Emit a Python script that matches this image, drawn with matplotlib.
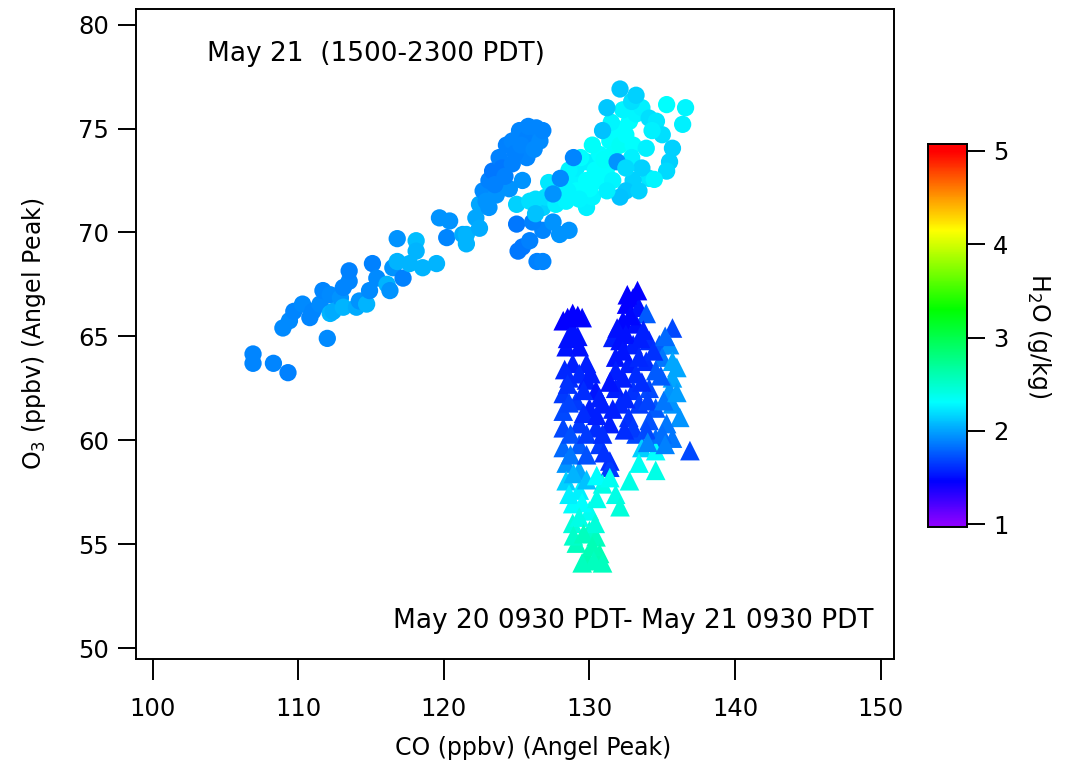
import numpy as np
import matplotlib
matplotlib.use("Agg")
import matplotlib.pyplot as plt
from matplotlib.colors import LinearSegmentedColormap, Normalize

# --- May 21 (1500-2300 PDT): CO, O3, H2O ---
co_may21 = [106.9, 106.9, 108.3, 109.3, 108.95, 109.4, 109.7, 110.3, 110.8, 111.0,
            111.5, 111.7, 112.0, 112.2, 112.2, 112.4, 112.9, 113.1, 113.1, 113.5,
            113.5, 114.0, 114.2, 114.7, 114.9, 115.1, 115.4, 116.1, 116.3, 116.5,
            116.8, 116.8, 117.2, 117.65, 118.1, 118.1, 118.55, 119.5, 119.7, 120.2,
            120.4, 121.3, 121.55, 121.55,
            122.2, 122.45, 122.45, 122.7, 123.1, 123.1, 123.35, 123.6, 123.8, 124.0,
            124.3, 124.5, 124.7, 124.7, 125.2, 125.4, 125.7, 125.7, 126.35, 126.6,
            126.8, 125.0, 123.5, 124.2, 124.9, 125.3, 125.8, 126.2, 122.9,
            125.1, 125.4, 125.9, 126.4, 126.8, 126.8, 127.5, 127.95, 128.6, 126.1,
            125.0, 125.9, 126.8, 127.0, 127.5, 127.7, 128.2, 128.4, 128.9, 129.1,
            129.1, 129.8, 129.8, 129.8, 130.2, 130.7, 130.7, 131.2, 131.4, 131.6,
            131.9, 132.1, 132.5, 132.75, 133.2, 133.6,
            126.3, 127.2, 128.6, 129.4, 130.2, 130.4, 131.0, 131.5, 132.3, 132.9,
            133.0, 132.9, 130.0, 129.3, 128.5, 126.3,
            128.9, 128.0, 127.5, 131.9,
            132.1, 133.2, 131.2, 130.9, 134.1, 134.6, 135.3, 136.6, 136.4, 135.0,
            135.7, 135.5, 135.3, 134.1, 133.0, 132.5, 132.1, 133.4, 133.6, 133.9,
            134.3, 132.5, 131.6, 131.2, 134.45]
o3_may21 = [63.7, 64.15, 63.7, 63.25, 65.4, 65.75, 66.2, 66.55, 65.9, 66.2,
            66.55, 67.2, 64.9, 67.0, 66.1, 66.2, 66.85, 67.35, 66.4, 67.65,
            68.15, 66.4, 66.7, 66.55, 67.2, 68.5, 67.8, 67.5, 67.2, 68.3,
            69.7, 68.6, 67.8, 68.5, 69.6, 69.1, 68.3, 68.5, 70.7, 69.75,
            70.55, 69.9, 69.45, 69.9,
            70.7, 70.2, 71.35, 72.0, 71.2, 72.5, 72.95, 71.8, 73.6, 73.1,
            74.2, 72.1, 74.4, 73.3, 74.9, 72.5, 74.5, 73.6, 75.03, 74.4,
            74.9, 70.4, 72.3, 72.7, 73.8, 74.2, 75.1, 74.0, 71.5,
            69.1, 69.3, 69.6, 68.6, 68.6, 70.1, 70.5, 69.9, 70.1, 70.5,
            71.35, 71.5, 71.2, 71.7, 72.1, 71.35, 72.6, 71.5, 72.5, 72.0,
            73.1, 72.5, 71.2, 73.4, 71.7, 72.5, 73.75, 73.1, 74.4, 73.75,
            75.0, 74.2, 74.7, 75.35, 75.7, 76.0,
            71.6, 72.4, 73.0, 73.6, 74.2, 73.0, 73.5, 75.3, 75.9, 76.3,
            74.2, 73.6, 72.1, 71.6, 72.0, 70.9,
            73.6, 72.6, 71.85, 73.4,
            76.9, 76.6, 76.0, 74.9, 75.5, 75.35, 76.15, 76.0, 75.2, 74.7,
            74.05, 73.4, 72.95, 72.6, 72.5, 72.0, 71.7, 72.0, 73.1, 74.05,
            74.9, 73.1, 72.5, 72.0, 72.55]
h2o_may21 = [1.90, 1.90, 1.90, 1.88, 1.92, 1.92, 1.90, 1.92, 1.90, 1.90,
             1.92, 1.90, 1.92, 1.92, 2.05, 2.02, 1.95, 1.90, 2.05, 1.90,
             1.88, 2.02, 1.95, 2.05, 1.92, 1.88, 1.92, 2.05, 1.95, 1.95,
             1.95, 2.05, 1.88, 2.05, 2.08, 2.05, 2.05, 2.05, 1.95, 1.90,
             1.95, 2.02, 2.05, 2.05,
             2.00, 2.02, 2.00, 1.92, 1.95, 1.88, 1.85, 1.95, 1.88, 1.85,
             1.88, 1.95, 1.90, 1.88, 1.90, 1.95, 1.88, 1.90, 1.90, 1.92,
             1.90, 1.85, 1.88, 1.88, 1.88, 1.90, 1.90, 1.92, 1.95,
             1.85, 1.85, 1.88, 1.88, 1.90, 1.90, 1.95, 1.95, 1.95, 1.88,
             2.15, 2.20, 2.15, 2.20, 2.20, 2.25, 2.25, 2.28, 2.28, 2.30,
             2.25, 2.30, 2.25, 2.25, 2.28, 2.30, 2.30, 2.30, 2.30, 2.32,
             2.30, 2.33, 2.30, 2.30, 2.28, 2.25,
             2.20, 2.22, 2.28, 2.30, 2.32, 2.30, 2.32, 2.28, 2.28, 2.20,
             2.30, 2.25, 2.30, 2.28, 2.28, 2.10,
             1.90, 1.92, 1.95, 1.95,
             2.12, 2.15, 2.12, 2.10, 2.20, 2.22, 2.30, 2.28, 2.25, 2.20,
             2.15, 2.15, 2.18, 2.22, 2.15, 2.12, 2.10, 2.15, 2.15, 2.25,
             2.25, 2.18, 2.28, 2.25, 2.28]

# --- May 20 0930 PDT - May 21 0930 PDT: CO, O3, H2O ---
co_may20 = [128.85, 128.2, 129.5, 128.85, 128.4, 129.3, 128.85, 129.8, 128.6, 129.8,
            130.45, 128.2, 129.1, 128.2, 130.0, 130.9, 128.2, 129.3, 130.45, 131.4,
            128.2, 129.3, 130.7, 131.4, 131.4, 128.4, 129.3, 128.4, 129.3, 130.9,
            131.8, 128.85, 130.0, 132.1, 128.85, 130.0, 130.45, 129.1, 129.8, 130.7,
            130.9, 129.5,
            128.5, 129.2, 128.5, 129.2, 128.3, 129.3, 130.1, 128.5, 129.6, 128.6,
            129.6, 130.5, 128.7, 129.8, 130.9, 128.7, 129.8, 131.0, 128.9, 129.8,
            130.5, 131.4, 128.6, 129.5, 130.5, 129.3, 130.4, 128.9, 129.6, 130.2,
            130.3,
            133.0, 132.55, 133.4, 133.9, 132.3, 133.2, 135.7, 131.6, 132.1, 133.0,
            134.1, 134.8, 135.5, 131.8, 132.7, 133.9, 135.0, 135.7, 131.8, 133.2,
            134.55, 135.7, 131.8, 133.0, 134.1, 135.5, 132.1, 133.4, 134.55, 135.7,
            136.2, 132.7, 134.1, 135.3, 133.2, 134.55, 135.7, 136.9, 133.6, 134.55,
            133.4, 134.55, 132.75, 130.7,
            132.6, 133.3, 132.8, 133.7, 132.5, 131.9, 133.5, 134.4, 132.3, 133.4,
            132.3, 133.6, 134.9, 131.4, 132.5, 134.0, 135.1, 131.6, 133.0, 133.9,
            135.0, 134.0, 135.2, 132.4, 136.0, 136.0, 135.2]
o3_may20 = [66.1, 65.75, 65.9, 65.3, 64.5, 64.5, 63.7, 63.7, 63.0, 62.9,
            62.4, 62.25, 61.9, 61.4, 61.55, 61.75, 60.6, 60.8, 60.6, 60.8,
            59.65, 59.8, 59.8, 59.0, 58.7, 58.9, 58.55, 58.05, 57.6, 57.9,
            57.4, 56.95, 56.6, 56.8, 56.0, 55.65, 55.35, 55.05, 54.4, 54.55,
            54.1, 54.1,
            65.9, 66.0, 64.9, 65.0, 63.4, 63.2, 63.2, 62.7, 62.4, 61.8,
            61.3, 61.2, 60.3, 60.3, 60.3, 59.3, 59.3, 59.4, 58.4, 58.1,
            58.3, 58.2, 57.4, 57.0, 57.2, 56.3, 56.0, 55.4, 55.5, 54.9,
            54.2,
            66.85, 66.55, 66.4, 66.1, 65.75, 65.6, 65.4, 64.95, 64.8, 64.6,
            64.8, 64.6, 64.6, 64.0, 63.7, 63.8, 64.0, 63.8, 63.35, 63.2,
            63.35, 63.0, 62.5, 62.4, 62.5, 62.4, 61.75, 61.75, 61.55, 61.75,
            61.1, 61.1, 60.95, 60.8, 60.3, 60.1, 60.1, 59.5, 59.65, 59.5,
            58.9, 58.55, 58.05, 62.05,
            67.0, 67.2, 66.0, 65.3, 65.1, 65.4, 64.9, 64.3, 64.3, 64.0,
            63.0, 62.8, 63.1, 62.8, 62.0, 61.9, 61.9, 61.5, 60.6, 60.5,
            60.3, 59.9, 59.8, 60.5, 62.3, 63.5, 65.0]
h2o_may20 = [1.45, 1.45, 1.48, 1.50, 1.52, 1.50, 1.55, 1.55, 1.60, 1.55,
             1.52, 1.65, 1.65, 1.70, 1.55, 1.55, 1.70, 1.65, 1.60, 1.55,
             1.80, 1.75, 1.65, 1.60, 1.65, 1.95, 2.00, 2.15, 2.25, 2.40,
             2.40, 2.30, 2.35, 2.45, 2.45, 2.50, 2.55, 2.55, 2.60, 2.60,
             2.55, 2.55,
             1.45, 1.45, 1.50, 1.50, 1.58, 1.58, 1.55, 1.62, 1.60, 1.68,
             1.60, 1.55, 1.72, 1.65, 1.60, 1.85, 1.72, 1.62, 2.05, 2.10,
             2.30, 2.35, 2.25, 2.30, 2.38, 2.40, 2.45, 2.50, 2.55, 2.58,
             2.55,
             1.45, 1.45, 1.50, 1.75, 1.48, 1.50, 1.70, 1.55, 1.50, 1.55,
             1.60, 1.75, 1.95, 1.52, 1.55, 1.60, 1.85, 2.00, 1.55, 1.60,
             1.75, 2.00, 1.55, 1.62, 1.70, 1.95, 1.58, 1.65, 1.75, 1.95,
             1.95, 1.62, 1.72, 1.85, 1.70, 1.80, 1.85, 1.70, 2.15, 2.30,
             2.35, 2.40, 2.40, 1.55,
             1.45, 1.45, 1.48, 1.55, 1.50, 1.50, 1.55, 1.62, 1.52, 1.58,
             1.55, 1.60, 1.75, 1.52, 1.58, 1.68, 1.85, 1.55, 1.65, 1.70,
             1.82, 1.90, 1.88, 1.60, 1.98, 2.00, 1.80]

x_ticks = [100, 110, 120, 130, 140, 150]
y_ticks = [50, 55, 60, 65, 70, 75, 80]
cbar_ticks = [1, 2, 3, 4, 5]
h2o_min, h2o_max = 1.0, 5.0

# Rainbow colour table (violet -> blue -> cyan -> green -> yellow -> red)
stops = [(1.0, "#8a00ff"), (1.45, "#0000ff"), (2.3, "#00ffff"), (3.3, "#00ff00"),
         (4.15, "#ffff00"), (4.55, "#ff8c00"), (5.0, "#ff0000")]
rainbow = LinearSegmentedColormap.from_list(
    "rainbow_h2o", [((v - h2o_min) / (h2o_max - h2o_min), c) for v, c in stops])
norm = Normalize(vmin=h2o_min, vmax=h2o_max)

plt.rcParams["font.family"] = ["DejaVu Sans"]
fig = plt.figure(figsize=(10.67, 7.64), dpi=100)
ax = fig.add_axes([0.127, 0.1374, 0.7111, 0.8508])

ax.scatter(co_may20, o3_may20, c=h2o_may20, cmap=rainbow, norm=norm,
           marker="^", s=200, linewidths=0)
ax.scatter(co_may21, o3_may21, c=h2o_may21, cmap=rainbow, norm=norm,
           marker="o", s=155, linewidths=0)

ax.set_xlim(98.83, 150.93)
ax.set_ylim(49.47, 80.75)
ax.set_xticks(x_ticks)
ax.set_yticks(y_ticks)
for sp in ax.spines.values():
    sp.set_linewidth(1.4)
ax.tick_params(axis="both", direction="out", width=1.4, labelsize=17.5, colors="black")
ax.tick_params(axis="y", length=13, pad=6)
ax.tick_params(axis="x", length=15, pad=12)

ax.set_xlabel("CO (ppbv) (Angel Peak)", fontsize=17)
ax.xaxis.set_label_coords(0.524, -0.118)
ax.set_ylabel("O$_3$ (ppbv) (Angel Peak)", fontsize=17, labelpad=22)

ax.text(0.094, 0.931, "May 21  (1500-2300 PDT)", transform=ax.transAxes,
        fontsize=19, ha="left", va="center")
ax.text(0.972, 0.058, "May 20 0930 PDT- May 21 0930 PDT", transform=ax.transAxes,
        fontsize=19, ha="right", va="center")

# Colour scale
cax = fig.add_axes([0.8695, 0.3102, 0.0366, 0.5009])
lo, hi = 0.971, 5.069
grad = np.linspace(lo, hi, 512).reshape(-1, 1)
cax.imshow(grad, cmap=rainbow, norm=norm, aspect="auto", origin="lower",
           extent=[0, 1, lo, hi])
cax.set_ylim(lo, hi)
cax.set_xlim(0, 1)
cax.set_xticks([])
cax.set_yticks(cbar_ticks)
cax.yaxis.tick_right()
cax.tick_params(axis="y", direction="out", length=13, width=1.4, pad=6, labelsize=17.5)
for sp in cax.spines.values():
    sp.set_linewidth(1.4)
cax.yaxis.set_label_position("right")
cax.set_ylabel("H$_2$O (g/kg)", rotation=270, fontsize=17, labelpad=32)

fig.savefig("out.png", dpi=100)
